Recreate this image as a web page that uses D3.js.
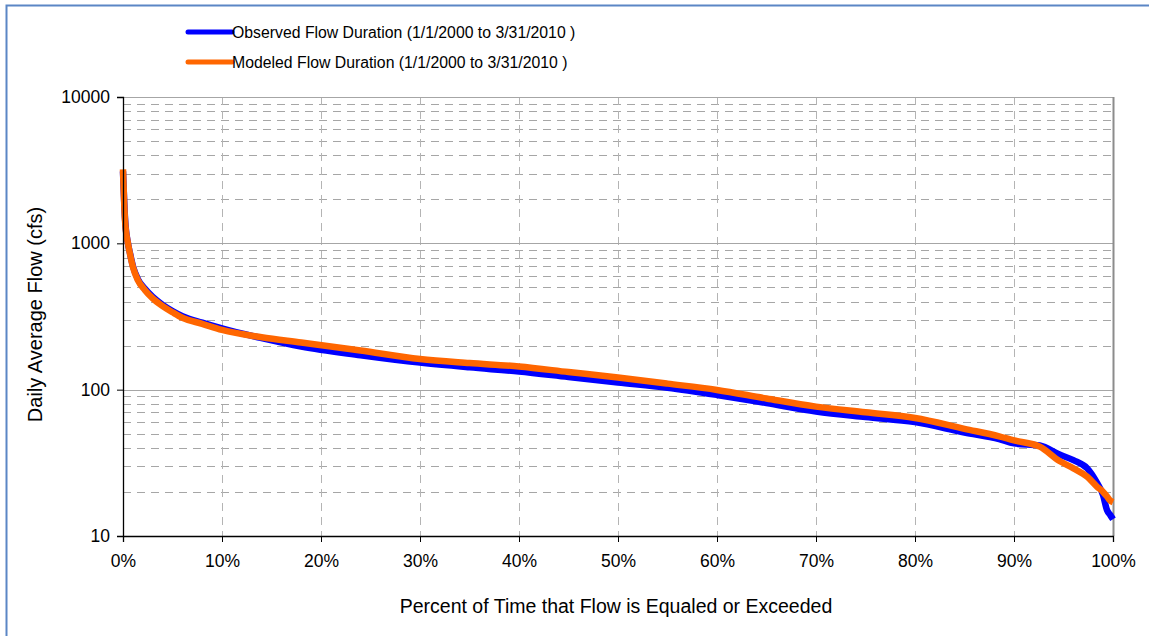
<!DOCTYPE html>
<html>
<head>
<meta charset="utf-8">
<script src="https://cdn.jsdelivr.net/npm/d3@7"></script>
<style>
  body { margin: 0; background: #fff; }
  svg { font-family: "Liberation Sans", Arial, sans-serif; }
</style>
</head>
<body>
<div id="chart"></div>
<script>
// percent of time exceeded and flows (cfs)
let percents = [0, 0.2, 0.5, 0.7, 1.0, 1.5, 2.2, 3, 4, 5, 6, 8, 10, 14, 18, 24, 30, 35, 40, 45, 50, 55, 60, 65, 70, 75, 80, 85, 88.5, 90, 92.6, 94.6, 96, 97.4, 98.4, 99, 99.4, 99.7, 100];
let observed = [3100, 1500, 1000, 860, 700, 570, 490, 430, 380, 345, 318, 287, 262, 225, 197, 172, 153, 142, 133, 122, 112, 103, 92, 81, 71, 65, 60, 51, 46, 43, 41.5, 36, 33, 29, 23, 19, 15, 14, 13];
let modeled = [3200, 1450, 1000, 850, 690, 560, 480, 420, 372, 338, 310, 282, 256, 228, 210, 185, 162, 152, 144, 132, 121, 110, 99.6, 87, 76.6, 70, 64, 54, 48, 45, 40.8, 32.5, 29, 25.4, 21.7, 20, 18.6, 17.5, 17];

let xTicks = [0, 10, 20, 30, 40, 50, 60, 70, 80, 90, 100];
let yMajor = [10, 100, 1000, 10000];
let seriesNames = ["Observed Flow Duration (1/1/2000 to 3/31/2010 )", "Modeled Flow Duration (1/1/2000 to 3/31/2010 )"];
let seriesColors = ["#0000ff", "#ff6600"];

let svgWidth = 1149;
let svgHeight = 636;
let margins = { top: 97, right: 36, bottom: 100, left: 123 };
let width = svgWidth - margins.left - margins.right;
let height = svgHeight - margins.top - margins.bottom;

let svg = d3.select("#chart")
    .append("svg")
    .attr("width", svgWidth)
    .attr("height", svgHeight);

// outer chart border (runs off the right/bottom edge like the original)
svg.append("rect")
    .attr("x", 6.5).attr("y", 5.5)
    .attr("width", 1160).attr("height", 660)
    .attr("fill", "none")
    .attr("stroke", "#5b86c5")
    .attr("stroke-width", 2);

let chartGroup = svg.append("g")
    .attr("transform", `translate(${margins.left}, ${margins.top})`);

let xScale = d3.scaleLinear().domain([0, 100]).range([0, width]);
let yScale = d3.scaleLog().domain([10, 10000]).range([height, 0]);

// minor horizontal gridlines (dashed)
let minorVals = [];
[10, 100, 1000].forEach(d => { for (let k = 2; k <= 9; k++) minorVals.push(d * k); });

chartGroup.selectAll(".minor")
    .data(minorVals)
    .enter().append("line")
    .attr("x1", 0).attr("x2", width)
    .attr("y1", d => Math.round(yScale(d)) + 0.5)
    .attr("y2", d => Math.round(yScale(d)) + 0.5)
    .attr("stroke", "#a6a6a6")
    .attr("stroke-dasharray", "8,6");

// vertical gridlines (dashed)
chartGroup.selectAll(".vgrid")
    .data(xTicks.slice(1, -1))
    .enter().append("line")
    .attr("x1", d => Math.round(xScale(d)) + 0.5)
    .attr("x2", d => Math.round(xScale(d)) + 0.5)
    .attr("y1", 0).attr("y2", height)
    .attr("stroke", "#b4b4b4")
    .attr("stroke-dasharray", "8,6");

// major horizontal gridlines
chartGroup.selectAll(".major")
    .data([100, 1000, 10000])
    .enter().append("line")
    .attr("x1", 0).attr("x2", width)
    .attr("y1", d => Math.round(yScale(d)) + 0.5)
    .attr("y2", d => Math.round(yScale(d)) + 0.5)
    .attr("stroke", "#a6a6a6");

// right edge of plot area
chartGroup.append("line")
    .attr("x1", width + 0.5).attr("x2", width + 0.5)
    .attr("y1", 0).attr("y2", height)
    .attr("stroke", "#8c8c8c")
    .attr("stroke-width", 2);

// lines
let pts = percents.map((p, i) => ({ p: p, obs: observed[i], mod: modeled[i] }));

let obsLine = d3.line()
    .x(d => xScale(d.p))
    .y(d => yScale(d.obs))
    .curve(d3.curveMonotoneX);
let modLine = d3.line()
    .x(d => xScale(d.p))
    .y(d => yScale(d.mod))
    .curve(d3.curveMonotoneX);

chartGroup.append("path")
    .datum(pts)
    .attr("d", obsLine)
    .attr("fill", "none")
    .attr("stroke", seriesColors[0])
    .attr("stroke-width", 6.5);

chartGroup.append("path")
    .datum(pts)
    .attr("d", modLine)
    .attr("fill", "none")
    .attr("stroke", seriesColors[1])
    .attr("stroke-width", 6.5);

// axes
let bottomAxis = d3.axisBottom(xScale)
    .tickValues(xTicks)
    .tickFormat(d => d + "%")
    .tickSize(6)
    .tickPadding(13);
let leftAxis = d3.axisLeft(yScale)
    .tickValues(yMajor)
    .tickFormat(d3.format("d"))
    .tickSize(6)
    .tickPadding(7);

let xAxisG = chartGroup.append("g")
    .attr("transform", `translate(0, ${height})`)
    .call(bottomAxis);
let yAxisG = chartGroup.append("g")
    .call(leftAxis);

[xAxisG, yAxisG].forEach(g => {
    g.select(".domain").attr("stroke", "#000").attr("stroke-width", 1.3);
    g.selectAll(".tick line").attr("stroke", "#000");
    g.selectAll(".tick text")
        .attr("fill", "#000")
        .style("font-size", "17.5px")
        .style("font-family", "'Liberation Sans', Arial, sans-serif");
});

// axis titles
chartGroup.append("text")
    .attr("transform", "rotate(-90)")
    .attr("x", -height / 2 + 2)
    .attr("y", -81)
    .attr("text-anchor", "middle")
    .style("font-size", "20px")
    .text("Daily Average Flow (cfs)");

chartGroup.append("text")
    .attr("x", width / 2 - 2)
    .attr("y", height + 77)
    .attr("text-anchor", "middle")
    .style("font-size", "19.5px")
    .text("Percent of Time that Flow is Equaled or Exceeded");

// legend
let legend = svg.append("g")
    .attr("transform", "translate(188, 32)");

let legendItems = legend.selectAll(".item")
    .data(seriesNames)
    .enter().append("g")
    .attr("transform", (d, i) => `translate(0, ${i * 30})`);

legendItems.append("line")
    .attr("x1", 0).attr("x2", 44)
    .attr("y1", 0).attr("y2", 0)
    .attr("stroke", (d, i) => seriesColors[i])
    .attr("stroke-width", 5)
    .attr("stroke-linecap", "round");

legendItems.append("text")
    .attr("x", 44)
    .attr("y", 5.5)
    .style("font-size", "15.8px")
    .text(d => d);
</script>
</body>
</html>
